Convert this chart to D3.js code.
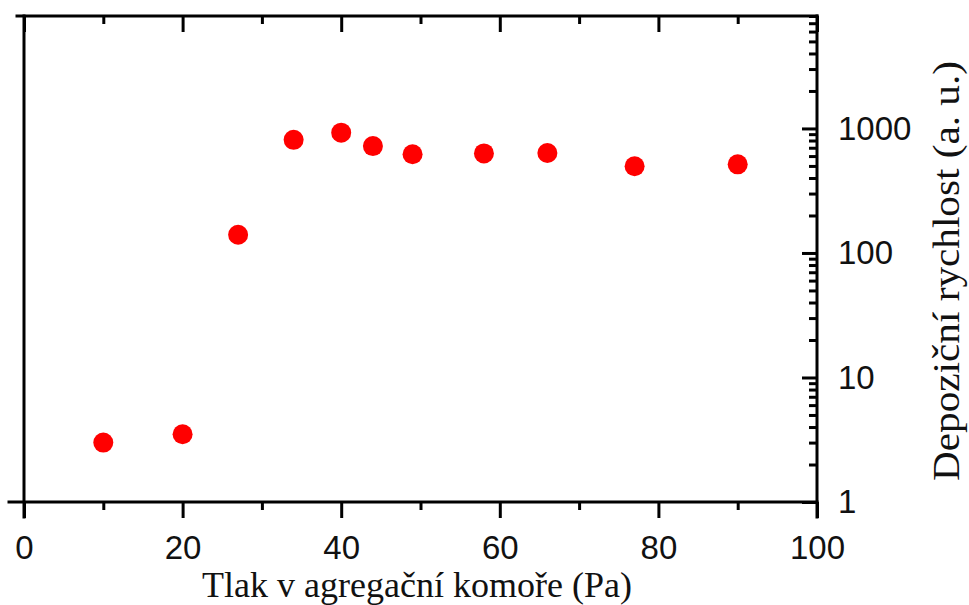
<!DOCTYPE html>
<html><head><meta charset="utf-8">
<script src="https://cdn.jsdelivr.net/npm/d3@7"></script>
<style>html,body{margin:0;padding:0;background:#fff;}svg{display:block;}</style>
</head><body>
<svg id="c" width="969" height="605"></svg>
<script>
const pressure = [10, 20, 27, 34, 40, 44, 49, 58, 66, 77, 90];
const rate     = [3.0, 3.5, 140, 810, 925, 722, 620, 630, 635, 497, 515];
const xMajor = [0, 20, 40, 60, 80, 100];
const xMinor = [10, 30, 50, 70, 90];
const yMajor = [1, 10, 100, 1000];
const yMinor = [2,3,4,5,6,7,8,9,20,30,40,50,60,70,80,90,200,300,400,500,600,700,800,900,2000,3000,4000,5000,6000,7000,8000];
const xTitle = "Tlak v agregační komoře (Pa)";
const yTitle = "Depoziční rychlost (a. u.)";

const svg = d3.select("#c");
const x = d3.scaleLinear().domain([0, 100]).range([24, 817]);
const y = d3.scaleLog().domain([1, 8000]).range([502, 16]);
const sw = 3;
const sans = "'Liberation Sans', Arial, sans-serif";
const serif = "'Liberation Serif', 'Times New Roman', serif";

function style(g){
  g.select(".domain").remove();
  g.selectAll(".tick line").attr("stroke","#000").attr("stroke-width",sw);
  g.selectAll(".tick text").attr("fill","#111").attr("font-family",sans).attr("font-size",33);
}

// bottom axis
const gb = svg.append("g").attr("transform",`translate(0,${y(1)})`);
gb.call(d3.axisBottom(x).tickValues(xMajor).tickSize(16).tickFormat(d3.format("d"))).call(style);
gb.selectAll(".tick text").attr("y",57).attr("dy",0);
svg.append("g").attr("transform",`translate(0,${y(1)})`)
  .call(d3.axisBottom(x).tickValues(xMinor).tickSize(8).tickFormat("")).call(style);

// top axis (ticks inward)
svg.append("g").attr("transform",`translate(0,${y.range()[1]})`)
  .call(d3.axisTop(x).tickValues(xMajor).tickSize(-16).tickFormat("")).call(style);
svg.append("g").attr("transform",`translate(0,${y.range()[1]})`)
  .call(d3.axisTop(x).tickValues(xMinor).tickSize(-8).tickFormat("")).call(style);

// right axis (ticks inward, labels outside)
const gr = svg.append("g").attr("transform",`translate(${x(100)},0)`);
gr.call(d3.axisRight(y).tickValues(yMajor).tickSize(-15).tickPadding(21).tickFormat(d3.format("d"))).call(style);
gr.selectAll(".tick text").attr("text-anchor","start");
svg.append("g").attr("transform",`translate(${x(100)},0)`)
  .call(d3.axisRight(y).tickValues(yMinor).tickSize(-8).tickFormat("")).call(style);

// frame lines
const frame = svg.append("g").attr("stroke","#000").attr("stroke-width",sw).attr("stroke-linecap","square");
frame.append("line").attr("x1",x(0)-15).attr("x2",x(100)).attr("y1",y(1)).attr("y2",y(1));
frame.append("line").attr("x1",x(0)-7).attr("x2",x(100)).attr("y1",y.range()[1]).attr("y2",y.range()[1]);
frame.append("line").attr("x1",x(0)).attr("x2",x(0)).attr("y1",y.range()[1]).attr("y2",y(1)+15);
frame.append("line").attr("x1",x(100)).attr("x2",x(100)).attr("y1",y.range()[1]).attr("y2",y(1)+15);

// points
svg.append("g").selectAll("circle").data(pressure.map((p,i)=>({p, r: rate[i]})))
  .join("circle").attr("cx",d=>x(d.p)).attr("cy",d=>y(d.r)).attr("r",10).attr("fill","#ff0000");

// titles
svg.append("text").attr("x",417).attr("y",597).attr("text-anchor","middle")
  .attr("font-family",serif).attr("font-size",36).attr("fill","#111").text(xTitle);
svg.append("text").attr("transform","translate(959,271) rotate(-90)").attr("text-anchor","middle")
  .attr("font-family",serif).attr("font-size",38).attr("fill","#111")
  .attr("textLength",420).attr("lengthAdjust","spacingAndGlyphs").text(yTitle);
</script>
</body></html>
